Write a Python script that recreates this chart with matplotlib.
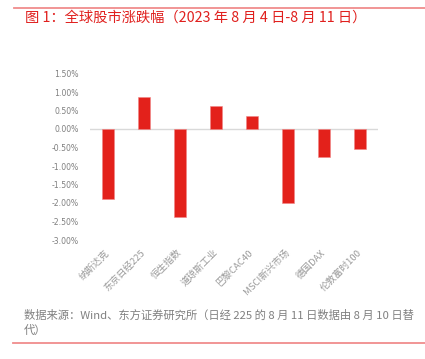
import matplotlib
matplotlib.use("Agg")
import matplotlib.pyplot as plt
from matplotlib.ticker import FuncFormatter
from matplotlib.lines import Line2D

plt.rcParams['font.family'] = ['Noto Sans CJK SC', 'DejaVu Sans']

categories = ['纳斯达克', '东京日经225', '恒生指数', '道琼斯工业', '巴黎CAC40',
              'MSCI新兴市场', '德国DAX', '伦敦富时100']
values = [-1.89, 0.87, -2.37, 0.61, 0.34, -2.00, -0.76, -0.54]  # percent
yticks = [1.5, 1.0, 0.5, 0.0, -0.5, -1.0, -1.5, -2.0, -2.5, -3.0]

title = '图 1：全球股市涨跌幅（2023 年 8 月 4 日-8 月 11 日）'
source = '数据来源：Wind、东方证券研究所（日经 225 的 8 月 11 日数据由 8 月 10 日替\n代）'

W, H = 425, 359
fig = plt.figure(figsize=(W / 100, H / 100), dpi=100)

ax = fig.add_axes([90 / W, 1 - 240 / H, 288 / W, (240 - 73.5) / H])
x = list(range(len(categories)))
ax.bar(x, values, width=0.31, color='#E3211B', edgecolor='#F08585', linewidth=0.4, zorder=3)
ax.axhline(0, color='#D9D9D9', linewidth=1.0, zorder=2)
ax.set_xlim(-0.5, len(categories) - 0.5)
ax.set_ylim(-3.0, 1.5)
ax.set_yticks(yticks)
ax.yaxis.set_major_formatter(FuncFormatter(lambda v, p: f'{v:.2f}%'))
for s in ax.spines.values():
    s.set_visible(False)
ax.tick_params(axis='y', length=0, pad=8, labelsize=5.6, labelcolor='#7F7F7F')
for lab in ax.get_yticklabels():
    lab.set_fontfamily('DejaVu Sans')
ax.set_xticks(x)
ax.set_xticklabels(categories, rotation=45, ha='right', va='center',
                   rotation_mode='anchor', fontsize=6.8, color='#999999')
ax.tick_params(axis='x', length=0, pad=8)

# decorative lines
fig.add_artist(Line2D([14 / W, 1], [1 - 7.5 / H, 1 - 7.5 / H], color='#F08C8C', linewidth=1.3))
fig.add_artist(Line2D([13 / W, 1], [1 - 343 / H, 1 - 343 / H], color='#F08C8C', linewidth=1.3))

fig.text(25 / W, 1 - 18 / H, title, fontsize=10.3, color='#E0201E', va='center', ha='left',
         fontweight='medium')
fig.text(24 / W, 1 - 310 / H, source, fontsize=8.15, color='#808080', va='top', ha='left',
         linespacing=1.4)

fig.savefig('out.png', dpi=100)
